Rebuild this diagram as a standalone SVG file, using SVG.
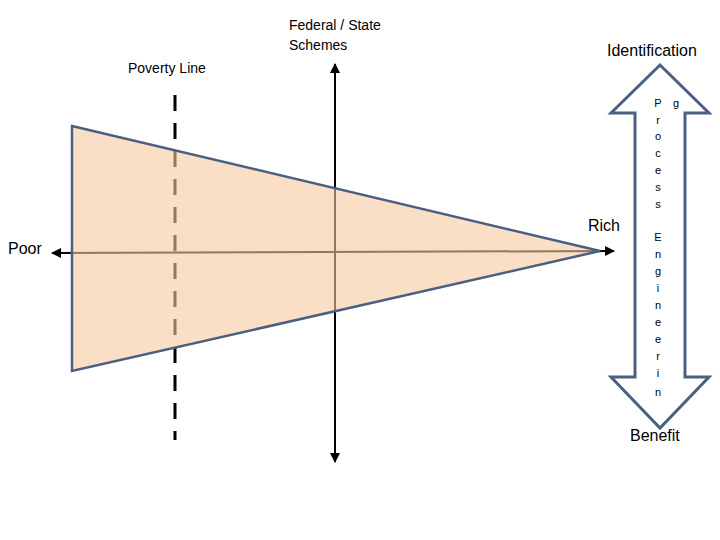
<svg xmlns="http://www.w3.org/2000/svg" width="720" height="540" viewBox="0 0 720 540">
<style>
text{font-family:"Liberation Sans",Arial,sans-serif;fill:#000}
.s{font-size:14px}.m{font-size:16px}.v{font-size:11px;text-anchor:middle}
.ax{stroke:#000;stroke-width:2;fill:none}
</style>
<defs>
<marker id="ah" viewBox="0 0 10 10" refX="9" refY="5" markerWidth="5" markerHeight="5" orient="auto-start-reverse"><path d="M0,0L10,5L0,10z" fill="#000"/></marker>
</defs>
<rect width="720" height="540" fill="#fff"/>
<g id="connectors">
<line class="ax" x1="52" y1="253" x2="614" y2="251" marker-start="url(#ah)" marker-end="url(#ah)"/>
<line class="ax" x1="335" y1="64" x2="335" y2="462" marker-start="url(#ah)" marker-end="url(#ah)"/>
<line x1="175" y1="95" x2="175" y2="440" stroke="#000" stroke-width="3" stroke-dasharray="16 12"/>
</g>
<g id="triangle">
<polygon points="72,126 600,251 72,371" fill="#f8c8a0" fill-opacity="0.6" stroke="#4a6080" stroke-width="2.5"/>
</g>
<g id="double-arrow">
<polygon points="660,65 709,113 685,113 685,377 709,377 660,428 611,377 635,377 635,113 611,113" fill="#fff" stroke="#4a6080" stroke-width="3" stroke-linejoin="miter"/>
<text class="v" x="658" y="107">P</text><text class="v" x="676" y="107">g</text>
<text class="v" x="658" y="124">r</text>
<text class="v" x="658" y="140">o</text>
<text class="v" x="658" y="157">c</text>
<text class="v" x="658" y="174">e</text>
<text class="v" x="658" y="191">s</text>
<text class="v" x="658" y="208">s</text>
<text class="v" x="658" y="241">E</text>
<text class="v" x="658" y="258">n</text>
<text class="v" x="658" y="275">g</text>
<text class="v" x="658" y="292">i</text>
<text class="v" x="658" y="309">n</text>
<text class="v" x="658" y="326">e</text>
<text class="v" x="658" y="343">e</text>
<text class="v" x="658" y="360">r</text>
<text class="v" x="658" y="377">i</text>
<text class="v" x="658" y="396">n</text>
</g>
<g id="labels">
<text class="s" x="289" y="30">Federal / State</text>
<text class="s" x="289" y="50">Schemes</text>
<text class="s" x="128" y="73">Poverty Line</text>
<text class="m" x="607" y="56">Identification</text>
<text class="m" x="588" y="231">Rich</text>
<text class="m" x="8" y="254">Poor</text>
<text class="m" x="630" y="441">Benefit</text>
</g>
</svg>
